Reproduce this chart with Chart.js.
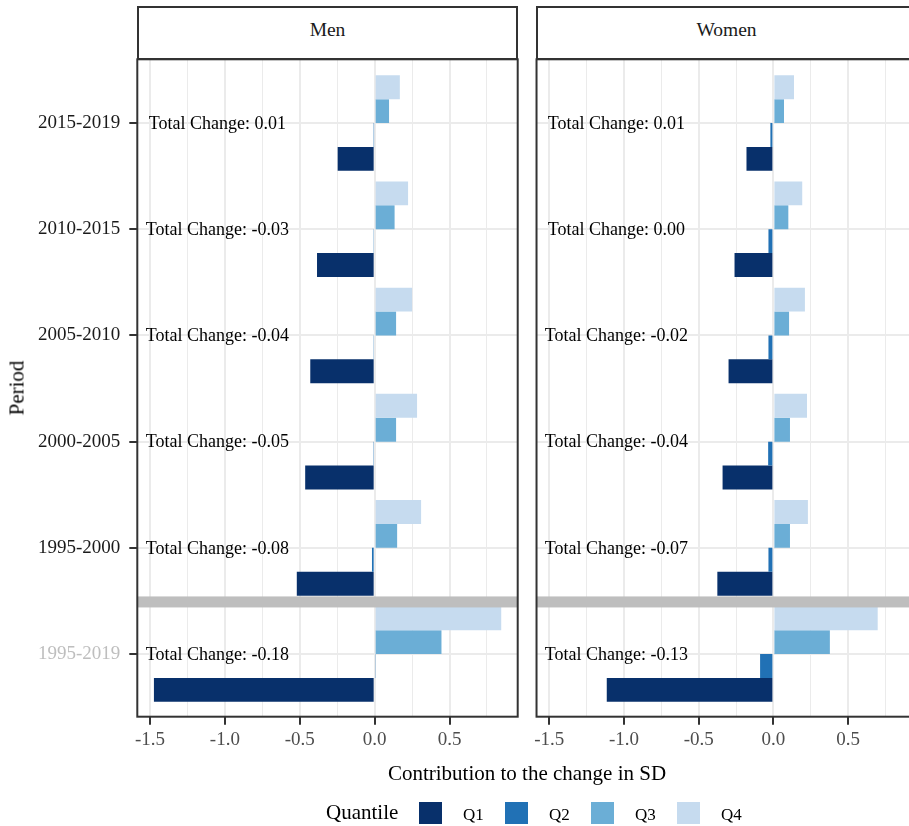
<!DOCTYPE html>
<html>
<head>
<meta charset="utf-8">
<script src="https://cdn.jsdelivr.net/npm/chart.js@4.4.1/dist/chart.umd.min.js"></script>
<style>
html,body{margin:0;padding:0;background:#fff;overflow:hidden}
#wrap{position:relative;width:909px;height:826px;overflow:hidden;font-family:"Liberation Serif","Times New Roman",serif;color:#000;background:#fff}
canvas{position:absolute;top:0}
.strip{position:absolute;top:6px;height:54px;width:381px;box-sizing:border-box;border:2px solid #333;background:#fff;font-size:19.5px;line-height:20px;padding-top:12px;text-align:center;color:#1a1a1a}
.abs{position:absolute;white-space:nowrap}
</style>
</head>
<body>
<div id="wrap">
  <canvas id="men" width="530" height="826" style="left:0"></canvas>
  <canvas id="women" width="400" height="826" style="left:530px"></canvas>
  <div class="strip" style="left:137px">Men</div>
  <div class="strip" style="left:536px">Women</div>
  <div class="abs" style="left:17px;top:388px;transform:translate(-50%,-50%) rotate(-90deg);font-size:21px;line-height:21px;color:#000">Period</div>
  <div class="abs" style="left:527px;top:763px;transform:translateX(-50%);font-size:21px;line-height:21px;color:#000">Contribution to the change in SD</div>
  <div id="legend"></div>
</div>
<script>
// ---- data ----
const periods = ['2015-2019','2010-2015','2005-2010','2000-2005','1995-2000','1995-2019'];
const quantiles = ['Q1','Q2','Q3','Q4'];

const menQ1 = [-0.247, -0.385, -0.430, -0.464, -0.520, -1.474];
const menQ2 = [-0.004, -0.005, -0.005, -0.009, -0.018,  0.005];
const menQ3 = [ 0.096,  0.133,  0.143,  0.143,  0.150,  0.446];
const menQ4 = [ 0.168,  0.223,  0.250,  0.283,  0.310,  0.845];
const menTotal = [0.01, -0.03, -0.04, -0.05, -0.08, -0.18];

const womenQ1 = [-0.180, -0.260, -0.300, -0.340, -0.375, -1.115];
const womenQ2 = [-0.020, -0.033, -0.033, -0.035, -0.033, -0.089];
const womenQ3 = [ 0.071,  0.100,  0.105,  0.111,  0.111,  0.378];
const womenQ4 = [ 0.138,  0.193,  0.211,  0.225,  0.231,  0.698];
const womenTotal = [0.01, 0.00, -0.02, -0.04, -0.07, -0.13];

const xTickValues = [-1.5,-1.25,-1.0,-0.75,-0.5,-0.25,0,0.25,0.5,0.75];

// ---- styling ----
const COLORS = {Q1:'#08306B', Q2:'#2171B5', Q3:'#6BAED6', Q4:'#C6DBEF'};
const LABEL_X = -1.05;      // x position (data units) of the "Total Change" text
const SEPARATOR_AT = 4.5;   // between 1995-2000 and 1995-2019
const X_MIN = -1.585, X_MAX = 0.955;

Chart.defaults.font.family = '"Liberation Serif","Times New Roman",serif';

const isMajor = v => Math.abs(v*2 - Math.round(v*2)) < 1e-6;

function panelPlugin(totals){
  return {
    id:'panelDeco',
    afterDatasetsDraw(chart){
      const {ctx, chartArea:a, scales:{x, y}} = chart;
      ctx.save();
      ctx.beginPath(); ctx.rect(a.left, a.top, a.right-a.left, a.bottom-a.top); ctx.clip();
      const ys = y.getPixelForValue(SEPARATOR_AT);
      ctx.fillStyle = '#BEBEBE';
      ctx.fillRect(a.left, ys - 4.5, a.right - a.left, 11);
      ctx.fillStyle = '#000';
      ctx.font = '18px "Liberation Serif","Times New Roman",serif';
      ctx.textAlign = 'center';
      ctx.textBaseline = 'middle';
      totals.forEach((t, i) => {
        ctx.fillText('Total Change: ' + t.toFixed(2), x.getPixelForValue(LABEL_X), y.getPixelForValue(i) + 1);
      });
      ctx.restore();
      ctx.save();
      ctx.strokeStyle = '#333';
      ctx.lineWidth = 2;
      ctx.strokeRect(a.left, a.top, a.right-a.left, a.bottom-a.top);
      ctx.restore();
    }
  };
}

function makeChart(id, series, totals, showY, pad, yWidth){
  const ds = ['Q4','Q3','Q2','Q1'].map(q => ({
    label: q,
    data: series[q].map((v, i) => ({x: v, y: i})),
    backgroundColor: COLORS[q],
    borderWidth: 0
  }));
  return new Chart(document.getElementById(id), {
    type: 'bar',
    data: {datasets: ds},
    options: {
      indexAxis: 'y',
      responsive: false,
      animation: false,
      devicePixelRatio: 1,
      categoryPercentage: 0.9,
      barPercentage: 1.0,
      layout: {padding: pad},
      plugins: {legend: {display: false}, tooltip: {enabled: false}},
      scales: {
        x: {
          type: 'linear', min: X_MIN, max: X_MAX, bounds: 'data',
          afterBuildTicks: s => { s.ticks = xTickValues.map(v => ({value: v})); },
          afterFit: s => { s.height = 60; },
          border: {display: false},
          grid: {
            color: '#EBEBEB',
            lineWidth: c => (c.tick && isMajor(c.tick.value)) ? 2 : 1,
            tickColor: c => (c.tick && isMajor(c.tick.value)) ? '#333333' : 'rgba(0,0,0,0)',
            tickLength: 8, tickWidth: 2
          },
          ticks: {
            autoSkip: false, maxRotation: 0, minRotation: 0,
            color: '#4D4D4D', font: {size: 19}, padding: 4,
            callback: v => isMajor(v) ? v.toFixed(1) : ''
          }
        },
        y: {
          type: 'linear', min: -0.6, max: 5.59, reverse: true, bounds: 'data',
          offset: false,
          afterBuildTicks: s => { s.ticks = periods.map((p, i) => ({value: i})); },
          afterFit: s => { s.width = yWidth; },
          border: {display: false},
          grid: {offset: false, color: '#EBEBEB', lineWidth: 2, tickColor: '#333333', tickLength: 8, tickWidth: 2, drawTicks: showY},
          ticks: {
            display: showY, autoSkip: false,
            color: c => c.index === 5 ? '#BEBEBE' : '#1A1A1A',
            font: {size: 19}, padding: 9,
            callback: v => periods[v]
          }
        }
      }
    },
    plugins: [panelPlugin(totals)]
  });
}

makeChart('men', {Q1: menQ1, Q2: menQ2, Q3: menQ3, Q4: menQ4}, menTotal, true,
  {top: 59.3, left: 0, right: 12.3, bottom: 49.3}, 137.3);
makeChart('women', {Q1: womenQ1, Q2: womenQ2, Q3: womenQ3, Q4: womenQ4}, womenTotal, false,
  {top: 59.3, left: 5.7, right: 13.9, bottom: 49.3}, 0);

// legend
const leg = document.getElementById('legend');
const title = document.createElement('div');
title.className = 'abs';
title.style.cssText = 'left:326px;top:802px;font-size:21px;line-height:21px';
title.textContent = 'Quantile';
leg.appendChild(title);
const boxX = [419, 505, 591, 677];
quantiles.forEach((q, i) => {
  const b = document.createElement('div');
  b.className = 'abs';
  b.style.cssText = `left:${boxX[i]}px;top:802px;width:23px;height:22px;background:${COLORS[q]}`;
  leg.appendChild(b);
  const t = document.createElement('div');
  t.className = 'abs';
  t.style.cssText = `left:${boxX[i]+44}px;top:806px;font-size:17px;line-height:17px;color:#000`;
  t.textContent = q;
  leg.appendChild(t);
});
</script>
</body>
</html>
